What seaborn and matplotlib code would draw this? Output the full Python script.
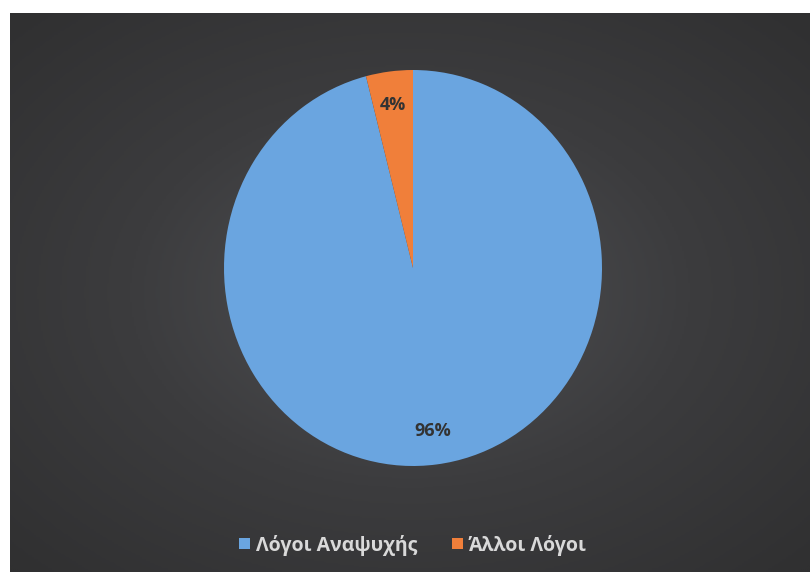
import numpy as np
import seaborn as sns
import matplotlib
matplotlib.use('Agg')
from matplotlib import pyplot as plt
from matplotlib.patches import Patch

labels = ['Λόγοι Αναψυχής', 'Άλλοι Λόγοι']
values = [96, 4]
colors = ['#6aa5e0', '#f07f3a']

sns.set_style('white')
plt.rcParams['font.family'] = ['Open Sans', 'DejaVu Sans']

fig = plt.figure(figsize=(8.1, 5.72), dpi=100)
fig.patch.set_facecolor('white')

# dark radial gradient background
bg = fig.add_axes([10 / 810, 0, 800 / 810, 559 / 572])
yy, xx = np.mgrid[-1:1:300j, -1:1:400j]
r = np.sqrt(xx ** 2 + yy ** 2)
bg.imshow(r, cmap=matplotlib.colors.LinearSegmentedColormap.from_list(
    'bg', ['#505154', '#3c3c3e', '#303031']), aspect='auto',
    extent=[0, 1, 0, 1], vmin=0, vmax=1.4)
bg.set_axis_off()

ax = fig.add_axes([224 / 810, 106 / 572, 378 / 810, 396 / 572])
wedges, texts, autotexts = ax.pie(values, colors=colors, startangle=90,
                                  counterclock=False, autopct='%1.0f%%',
                                  pctdistance=0.83, radius=1,
                                  wedgeprops=dict(linewidth=0),
                                  textprops=dict(color='#333333', fontsize=13,
                                                 fontweight='bold'))
ax.set_xlim(-1, 1)
ax.set_ylim(-1, 1)
ax.set_aspect('auto')

handles = [Patch(facecolor=c, edgecolor='none', label=l) for c, l in zip(colors, labels)]
leg = fig.legend(handles=handles, loc='center', bbox_to_anchor=(0.51, 1 - 545 / 572),
                 ncol=2, frameon=False, handlelength=0.55, handleheight=0.55,
                 handletextpad=0.3, columnspacing=1.8,
                 prop=dict(size=14, weight='bold'))
for t in leg.get_texts():
    t.set_color('#d9d9d9')

fig.savefig('out.png', dpi=100)
